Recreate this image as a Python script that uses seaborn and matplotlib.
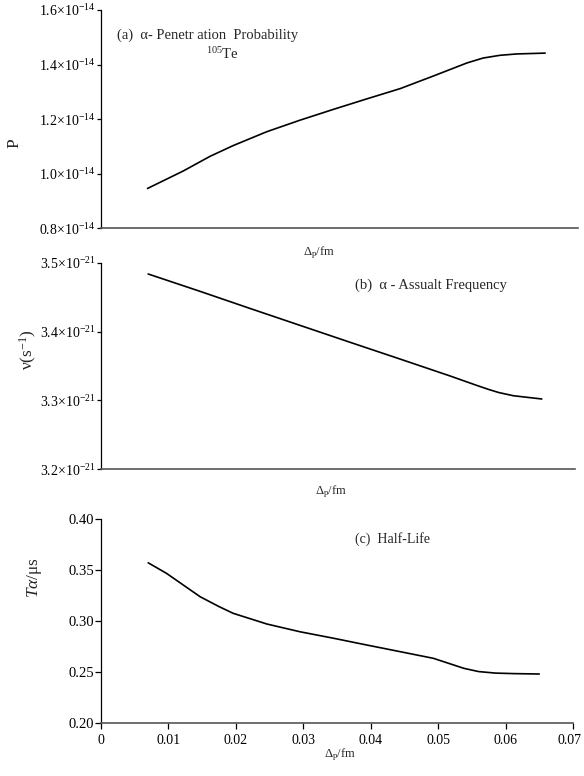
import numpy as np
import pandas as pd
import matplotlib
matplotlib.use("Agg")
import matplotlib.pyplot as plt
import matplotlib.transforms as mtransforms
import seaborn as sns

# ---------------- data ----------------
# (a) penetration probability, units of 1e-14
x_a = [0.0069, 0.0122, 0.0162, 0.0196, 0.0246, 0.0295, 0.0345, 0.0394,
       0.0444, 0.0493, 0.0543, 0.0567, 0.0592, 0.0617, 0.0659]
p_a = [0.946, 1.010, 1.064, 1.103, 1.154, 1.196, 1.236, 1.274,
       1.312, 1.358, 1.406, 1.424, 1.434, 1.439, 1.442]

# (b) assault frequency, units of 1e-21
x_b = [0.0070, 0.0147, 0.0221, 0.0295, 0.0369, 0.0444, 0.0518, 0.0557,
       0.0575, 0.0590, 0.0612, 0.0654]
v_b = [3.4836, 3.4584, 3.4336, 3.4091, 3.3846, 3.3600, 3.3355, 3.3220,
       3.3160, 3.3115, 3.3068, 3.3021]

# (c) half-life in microseconds
x_c = [0.0070, 0.0097, 0.0147, 0.0175, 0.0196, 0.0246, 0.0295, 0.0345, 0.0394,
       0.0444, 0.0493, 0.0538, 0.0560, 0.0585, 0.0612, 0.0650]
t_c = [0.357, 0.3467, 0.3237, 0.3140, 0.3074, 0.2969, 0.2893, 0.2829, 0.2763,
       0.2697, 0.2632, 0.2534, 0.2502, 0.2487, 0.2482, 0.2478]

yticks_a = [0.8, 1.0, 1.2, 1.4, 1.6]
yticks_b = [3.2, 3.3, 3.4, 3.5]
yticks_c = [0.20, 0.25, 0.30, 0.35, 0.40]
ylabels_c = ["0.20", "0.25", "0.30", "0.35", "0.40"]
xticks_c = [0, 0.01, 0.02, 0.03, 0.04, 0.05, 0.06, 0.07]
xlabels_c = ["0", "0.01", "0.02", "0.03", "0.04", "0.05", "0.06", "0.07"]

# ---------------- style ----------------
sns.set_theme(style="ticks")
plt.rcParams["font.family"] = ["Liberation Serif", "DejaVu Serif"]
plt.rcParams["mathtext.fontset"] = "custom"
plt.rcParams["mathtext.rm"] = "Liberation Serif"
plt.rcParams["mathtext.it"] = "Liberation Serif:italic"
plt.rcParams["mathtext.bf"] = "Liberation Serif:bold"

W, H = 584, 776
fig = plt.figure(figsize=(W / 100, H / 100), dpi=100)


def rect(left, right, top, bottom):
    return [left / W, 1 - bottom / H, (right - left) / W, (bottom - top) / H]


ax_a = fig.add_axes(rect(101, 578, 10, 228.3))
ax_b = fig.add_axes(rect(101, 575, 262.7, 469.3))
ax_c = fig.add_axes(rect(101, 573, 519, 722.7))

df_a = pd.DataFrame({"x": x_a, "y": p_a})
df_b = pd.DataFrame({"x": x_b, "y": v_b})
df_c = pd.DataFrame({"x": x_c, "y": t_c})

for ax, df in [(ax_a, df_a), (ax_b, df_b), (ax_c, df_c)]:
    sns.lineplot(data=df, x="x", y="y", ax=ax, color="black", linewidth=1.2,
                 estimator=None, sort=True)
    ax.set_xlabel("")
    ax.set_ylabel("")
    for s in ["top", "right"]:
        ax.spines[s].set_visible(False)
    ax.spines["left"].set_color("black")
    ax.spines["left"].set_linewidth(0.9)
    ax.spines["bottom"].set_color("#555555")
    ax.spines["bottom"].set_linewidth(1.2)
    ax.tick_params(axis="y", direction="out", length=3, width=0.9,
                   colors="black", labelsize=10, pad=1)

# x ranges (a,b share the same px scale as c)
ax_a.set_xlim(0, (578 - 101) / 6740)
ax_b.set_xlim(0, (575 - 101) / 6740)
ax_c.set_xlim(0, 0.07)

ax_a.set_ylim(0.8, 1.6)
ax_b.set_ylim(3.2, 3.5)
ax_c.set_ylim(0.20, 0.40)

ax_a.set_yticks(yticks_a, [r"%.1f×10$^{\mathregular{-14}}$" % t for t in yticks_a])
ax_b.set_yticks(yticks_b, [r"%.1f×10$^{\mathregular{-21}}$" % t for t in yticks_b])
ax_c.set_yticks(yticks_c, ylabels_c)
ax_c.set_xticks(xticks_c, xlabels_c)

for ax in (ax_a, ax_b):
    ax.tick_params(axis="x", bottom=False, labelbottom=False)
ax_c.tick_params(axis="x", direction="out", length=4, width=0.9,
                 colors="black", labelsize=10, pad=4)
ax_c.tick_params(axis="y", length=4, labelsize=10.5)

# keep the last x tick label inside the canvas
last = ax_c.get_xticklabels()[-1]
last.set_transform(last.get_transform() +
                   mtransforms.ScaledTranslation(-3 / 100, 0, fig.dpi_scale_trans))

# axis labels
xl = r"$\mathregular{\Delta_p}$/fm"
for ax, ypx, xpx in [(ax_a, 253, 319), (ax_b, 492, 331), (ax_c, 755, 340)]:
    ax.set_xlabel(xl, fontsize=9)
    ax.xaxis.set_label_coords(xpx / W, 1 - ypx / H, transform=fig.transFigure)
    ax.xaxis.label.set_verticalalignment("center")

for ax, lab, xpx, ypx in [(ax_a, "P", 14, 143),
                          (ax_b, r"ν(s$^{\mathregular{-1}}$)", 28, 350),
                          (ax_c, r"$\mathit{Tα}$/μs", 34, 577)]:
    ax.set_ylabel(lab, fontsize=12.5)
    ax.yaxis.set_label_coords(xpx / W, 1 - ypx / H, transform=fig.transFigure)
    ax.yaxis.label.set_verticalalignment("center")

# annotations
def ftext(xpx, ypx, s, **kw):
    fig.text(xpx / W, 1 - ypx / H, s, va="center", **kw)

ftext(117, 35, "(a)  α- Penetr ation  Probability", fontsize=10.5, ha="left")
ftext(222, 54, r"$\mathregular{^{105}}$Te", fontsize=10.5, ha="center")
ftext(355, 285, "(b)  α - Assualt Frequency", fontsize=10.5, ha="left")
ftext(355, 539, "(c)  Half-Life", fontsize=10, ha="left")

fig.savefig("out.png", dpi=100)
